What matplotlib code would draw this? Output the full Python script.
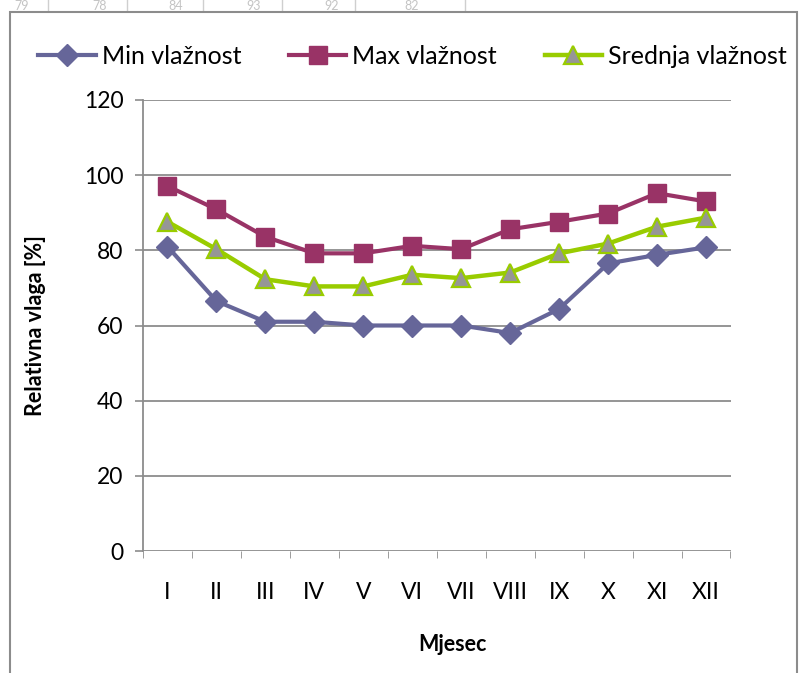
import matplotlib
matplotlib.use("Agg")
import matplotlib.pyplot as plt
from matplotlib.patches import Rectangle
from matplotlib.lines import Line2D

plt.rcParams['font.family'] = ['Lato', 'DejaVu Sans']

months = ["I", "II", "III", "IV", "V", "VI", "VII", "VIII", "IX", "X", "XI", "XII"]
min_vlaznost = [81, 66.5, 61, 61, 60, 60, 60, 58, 64.4, 76.5, 78.8, 80.8]
max_vlaznost = [97.1, 90.9, 83.6, 79.2, 79.2, 81.2, 80.3, 85.6, 87.6, 89.8, 95.2, 93.0]
srednja_vlaznost = [87.6, 80.3, 72.3, 70.4, 70.4, 73.5, 72.6, 74.1, 79.2, 81.8, 86.3, 88.7]
yticks = [0, 20, 40, 60, 80, 100, 120]
top_numbers = ["79", "78", "84", "93", "92", "82"]

W, H = 800, 673
fig = plt.figure(figsize=(W / 100, H / 100), dpi=100)

# faint table row above the chart frame
num_x = [14, 92, 168, 246, 324, 404]
for xp, t in zip(num_x, top_numbers):
    fig.text(xp / W, 1 - 6.5 / H, t, fontsize=9, color="#c4c4c4",
             ha="left", va="center", zorder=0)
for xp in [48, 127, 203, 282, 355, 465]:
    fig.add_artist(Line2D([xp / W, xp / W], [1 - 12 / H, 1.0],
                          transform=fig.transFigure, color="#cfcfcf", lw=1, zorder=0))

# chart frame
frame = Rectangle((10 / W, -0.05), (797 - 10) / W, 1.05 - 12 / H,
                  transform=fig.transFigure, facecolor="white",
                  edgecolor="#8c8c8c", lw=1.5, zorder=1)
fig.patches.append(frame)

ax = fig.add_axes([143 / W, 1 - 551 / H, (730.5 - 143) / W, (551 - 100) / H])
ax.set_zorder(2)
ax.patch.set_alpha(0)

x = list(range(len(months)))
ax.plot(x, min_vlaznost, color="#666699", lw=3.0, marker="D", ms=11,
        mfc="#666699", mec="#666699", label="Min vlažnost", zorder=5)
ax.plot(x, max_vlaznost, color="#993366", lw=3.0, marker="s", ms=13.5,
        mfc="#993366", mec="#993366", label="Max vlažnost", zorder=5)
ax.plot(x, srednja_vlaznost, color="#99CC00", lw=3.2, marker="^", ms=13.5,
        mfc="#969696", mec="#99CC00", mew=1.6, label="Srednja vlažnost", zorder=6)

ax.set_xlim(-0.5, 11.5)
ax.set_ylim(0, 120)
ax.set_yticks(yticks)
ax.set_yticklabels([str(v) for v in yticks], fontsize=16.5)
ax.set_xticks(x)
ax.set_xticklabels(months, fontsize=16.5)
ax.set_xticks([i - 0.5 for i in range(13)], minor=True)
ax.tick_params(axis="x", which="major", length=0, pad=22)
ax.tick_params(axis="x", which="minor", length=5, color="#8c8c8c")
ax.tick_params(axis="y", length=6, color="#8c8c8c", width=1.2, pad=8)

ax.grid(axis="y", color="#8c8c8c", lw=1.3)
ax.set_axisbelow(True)
for s in ["top", "right", "bottom"]:
    ax.spines[s].set_visible(False)
ax.spines["left"].set_color("#8c8c8c")
ax.spines["left"].set_linewidth(1.3)

ax.set_ylabel("Relativna vlaga [%]", fontsize=15.5, fontweight="bold")
ax.yaxis.set_label_coords(-(143 - 46) / (730.5 - 143), 0.5)
ax.set_xlabel("Mjesec", fontsize=15.5, fontweight="bold")
ax.xaxis.set_label_coords((452 - 143) / (730.5 - 143), -(634 - 551) / (551 - 100))

leg = fig.legend(loc="center left", bbox_to_anchor=(38 / W, 1 - 56 / H), ncol=3,
                 frameon=False, fontsize=18, handlelength=2.3, handletextpad=0.25,
                 columnspacing=1.9, borderaxespad=0, borderpad=0)
leg.set_zorder(3)

fig.savefig("out.png", dpi=100)
